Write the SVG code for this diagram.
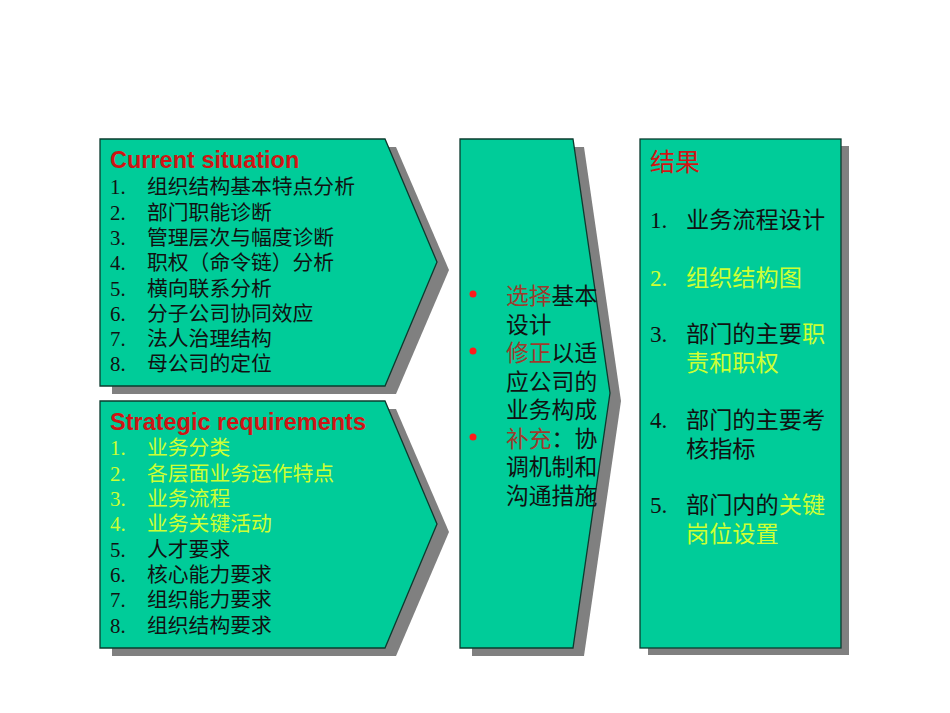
<svg xmlns="http://www.w3.org/2000/svg" width="950" height="713" viewBox="0 0 950 713">
<style>
.shadow{fill:#808080;}
.box{fill:#00CC99;stroke:#0B3B2E;stroke-width:1.3;}
.head{font-family:"Liberation Sans",Arial,sans-serif;font-weight:bold;font-size:23.5px;fill:#D01414;}
.item{font-family:"Liberation Serif","Noto Sans CJK SC",serif;font-size:20.8px;fill:#111111;}
.mid{font-family:"Liberation Serif","Noto Sans CJK SC",serif;font-size:22.8px;fill:#111111;}
.rt{font-family:"Liberation Serif","Noto Sans CJK SC",serif;font-size:23.2px;fill:#111111;}
.rhead{font-family:"Noto Sans CJK SC",sans-serif;font-size:25px;fill:#D01414;}
.y{fill:#CCFF33;}
.br{fill:#9E3A2C;}
.bul{fill:#FF1A1A;}
</style>
<rect width="950" height="713" fill="#FFFFFF"/>

<g id="current-situation">
<polygon class="shadow" points="112,147 396,147 449,270 396,394 112,394"/>
<polygon class="box" points="100,139 385,139 437,262 385,386 100,386"/>
<text class="head" x="110" y="167.5">Current situation</text>
<g class="item">
<text x="110" y="194">1.</text><text x="147" y="194">组织结构基本特点分析</text>
<text x="110" y="219.5">2.</text><text x="147" y="219.5">部门职能诊断</text>
<text x="110" y="245">3.</text><text x="147" y="245">管理层次与幅度诊断</text>
<text x="110" y="270">4.</text><text x="147" y="270">职权（命令链）分析</text>
<text x="110" y="295.5">5.</text><text x="147" y="295.5">横向联系分析</text>
<text x="110" y="321">6.</text><text x="147" y="321">分子公司协同效应</text>
<text x="110" y="346">7.</text><text x="147" y="346">法人治理结构</text>
<text x="110" y="371">8.</text><text x="147" y="371">母公司的定位</text>
</g>
</g>

<g id="strategic-requirements">
<polygon class="shadow" points="112,409 396,409 449,532 396,656 112,656"/>
<polygon class="box" points="100,401 385,401 437,524 385,648 100,648"/>
<text class="head" x="110" y="429.5">Strategic requirements</text>
<g class="item">
<text class="y" x="110" y="455">1.</text><text class="y" x="147" y="455">业务分类</text>
<text class="y" x="110" y="480.5">2.</text><text class="y" x="147" y="480.5">各层面业务运作特点</text>
<text class="y" x="110" y="506">3.</text><text class="y" x="147" y="506">业务流程</text>
<text class="y" x="110" y="531">4.</text><text class="y" x="147" y="531">业务关键活动</text>
<text x="110" y="556.5">5.</text><text x="147" y="556.5">人才要求</text>
<text x="110" y="582">6.</text><text x="147" y="582">核心能力要求</text>
<text x="110" y="607">7.</text><text x="147" y="607">组织能力要求</text>
<text x="110" y="632.5">8.</text><text x="147" y="632.5">组织结构要求</text>
</g>
</g>

<g id="design-step">
<polygon class="shadow" points="472,147 584,147 621,401 584,656 472,656"/>
<polygon class="box" points="460,139 573,139 610,393 573,648 460,648"/>
<circle class="bul" cx="473" cy="294" r="3.5"/>
<circle class="bul" cx="473" cy="351" r="3.5"/>
<circle class="bul" cx="473" cy="437" r="3.5"/>
<g class="mid">
<text x="506" y="304"><tspan class="br">选择</tspan>基本</text>
<text x="506" y="332.5">设计</text>
<text x="506" y="361"><tspan class="br">修正</tspan>以适</text>
<text x="506" y="389.5">应公司的</text>
<text x="506" y="418">业务构成</text>
<text x="506" y="446.5"><tspan class="br">补充</tspan>：协</text>
<text x="506" y="475">调机制和</text>
<text x="506" y="503.5">沟通措施</text>
</g>
</g>

<g id="results">
<rect class="shadow" x="648" y="146" width="201" height="509"/>
<rect class="box" x="640" y="139" width="201" height="509"/>
<text class="rhead" x="650" y="171">结果</text>
<g class="rt">
<text x="650" y="228">1.</text><text x="686" y="228">业务流程设计</text>
<text class="y" x="650" y="285.5">2.</text><text class="y" x="686" y="285.5">组织结构图</text>
<text x="650" y="342">3.</text><text x="686" y="342">部门的主要<tspan class="y">职</tspan></text>
<text class="y" x="686" y="371">责和职权</text>
<text x="650" y="427.5">4.</text><text x="686" y="427.5">部门的主要考</text>
<text x="686" y="456.5">核指标</text>
<text x="650" y="513">5.</text><text x="686" y="513">部门内的<tspan class="y">关键</tspan></text>
<text class="y" x="686" y="542">岗位设置</text>
</g>
</g>

<g id="connectors"></g>
</svg>
